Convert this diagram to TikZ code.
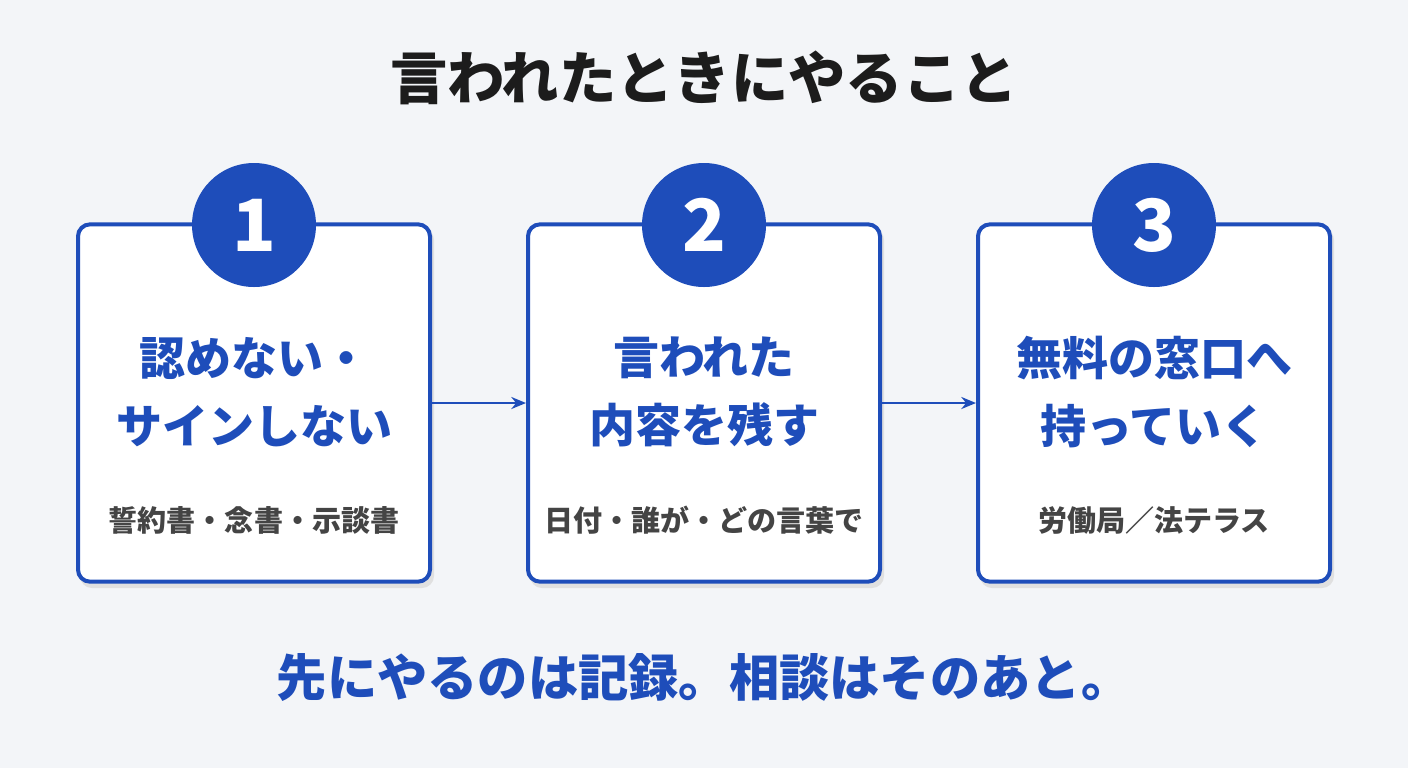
\documentclass[tikz,border=0pt]{standalone}
\usepackage{fontspec}
\newfontfamily\jp{Noto Sans CJK JP}
\usetikzlibrary{arrows.meta}
\definecolor{bl}{HTML}{1E4DBA}
\definecolor{bg}{HTML}{F3F5F8}
\definecolor{dk}{HTML}{1C1C1C}
\definecolor{gr}{HTML}{444444}
\begin{document}
\begin{tikzpicture}[x=0.75pt,y=-0.75pt,
 box/.style={draw=bl,line width=3pt,fill=white,rounded corners=9pt,minimum width=264pt,minimum height=268pt,inner sep=0pt},
 num/.style={circle,fill=bl,minimum size=93pt,inner sep=0pt,text=white,font=\jp\bfseries\fontsize{54}{54}\selectfont},
 main/.style={text=bl,font=\jp\bfseries\fontsize{34.5}{51}\selectfont,align=center},
 sub/.style={text=gr,font=\jp\bfseries\fontsize{21.8}{24}\selectfont},
 arr/.style={draw=bl,line width=2pt,-{Stealth[length=11pt,width=9pt]}}]
\fill[bg] (0,0) rectangle (1408,768);
\useasboundingbox (0,0) rectangle (1408,768);
\node[text=dk,font=\jp\bfseries\fontsize{43}{45}\selectfont] (title) at (704,78) {言われたときにやること};
\foreach \i/\x in {1/254,2/704,3/1154}{
 \fill[black!12,rounded corners=9pt] (\x-174,228) rectangle (\x+180,588);
 \node[box] (b\i) at (\x,403) {};
 \node[num] (n\i) at (\x,225) {\i};
}
\node[main] (m1) at (254,392) {認めない・\\サインしない};
\node[main] (m2) at (704,392) {言われた\\内容を残す};
\node[main] (m3) at (1154,392) {無料の窓口へ\\持っていく};
\node[sub] (s1) at (254,520) {誓約書・念書・示談書};
\node[sub] (s2) at (704,520) {日付・誰が・どの言葉で};
\node[sub] (s3) at (1154,520) {労働局／法テラス};
\draw[arr] (b1.east) -- (b2.west);
\draw[arr] (b2.east) -- (b3.west);
\node[text=bl,font=\jp\bfseries\fontsize{37.7}{40}\selectfont] (foot) at (704,678) {先にやるのは記録。相談はそのあと。};
\end{tikzpicture}
\end{document}
